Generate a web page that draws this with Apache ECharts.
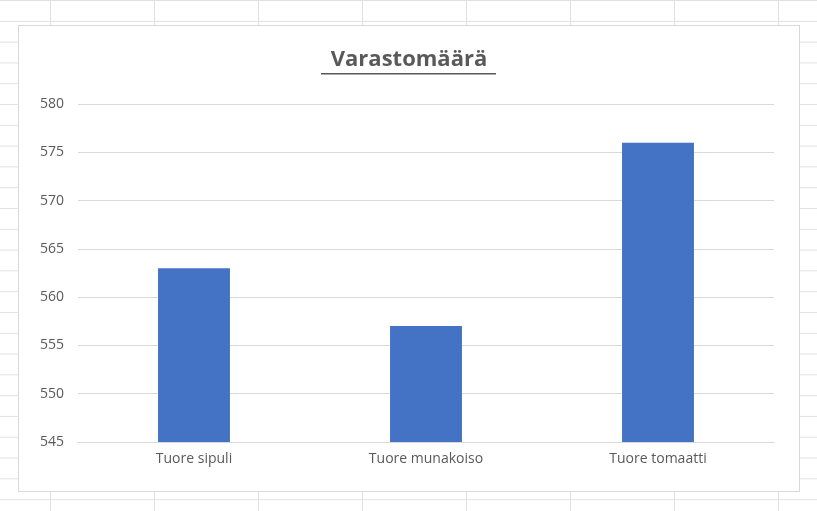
<!DOCTYPE html>
<html><head><meta charset="utf-8">
<script src="https://cdn.jsdelivr.net/npm/echarts@6/dist/echarts.min.js"></script>
<style>
html,body{margin:0;padding:0;width:817px;height:511px;overflow:hidden;background:#fff;
background-image:linear-gradient(to right,#e1e1e1 1px,transparent 1px),linear-gradient(to bottom,#e1e1e1 1px,transparent 1px);
background-size:104px 20.8px;background-position:50px 0px;}
#c{position:absolute;left:18px;top:25px;width:782px;height:467px;background:#fff;border:1px solid #d9d9d9;box-sizing:border-box;}
</style></head><body>
<div id="c"></div>
<script>
const categories=["Tuore sipuli","Tuore munakoiso","Tuore tomaatti"];
const values=[563,557,576];
const chart=echarts.init(document.getElementById('c'));
chart.setOption({
  animation:false,
  title:{text:"Varastomäärä",left:'center',top:18,textStyle:{fontFamily:'Open Sans, Calibri, sans-serif',fontSize:22,fontWeight:'bold',color:'#595959'}},
  graphic:[{type:'rect',shape:{x:302,y:47,width:175,height:1.5},style:{fill:'#595959'}}],
  grid:{left:59,right:25,top:78,bottom:49},
  xAxis:{type:'category',data:categories,axisTick:{show:false},axisLine:{lineStyle:{color:'#d9d9d9'}},
    axisLabel:{color:'#595959',fontSize:14,fontFamily:'Open Sans, sans-serif',margin:10}},
  yAxis:{type:'value',min:545,max:580,interval:5,axisLine:{show:false},axisTick:{show:false},
    axisLabel:{color:'#595959',fontSize:14,fontFamily:'Open Sans, sans-serif',margin:14},
    splitLine:{lineStyle:{color:'#d9d9d9'}}},
  series:[{type:'bar',data:values,barWidth:'31%',itemStyle:{color:'#4472c4'}}]
});
</script></body></html>
